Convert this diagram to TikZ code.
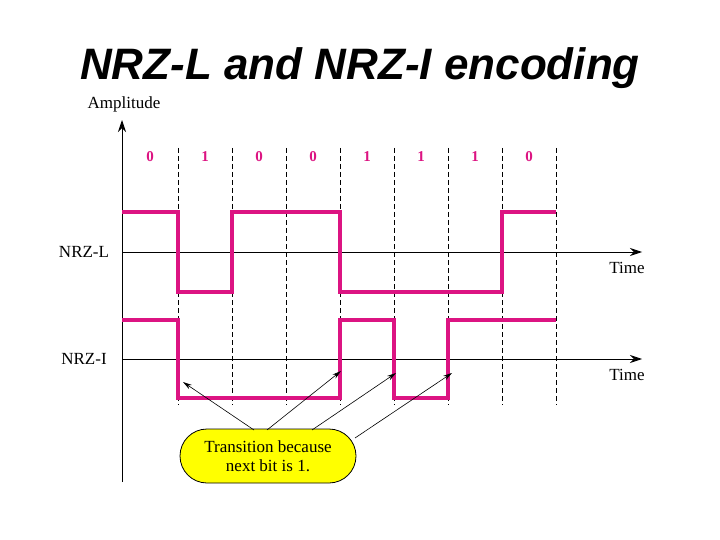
\documentclass[tikz,border=0pt]{standalone}
\usepackage{fontspec}
\newfontfamily\titlefont{Liberation Sans}
\setmainfont{Liberation Serif}
\usetikzlibrary{arrows.meta,shapes.misc}
\definecolor{sig}{RGB}{220,20,130}
\definecolor{bub}{RGB}{255,255,0}
\begin{document}
\begin{tikzpicture}[x=1pt,y=-1pt,
  sigline/.style={sig,line width=3.5pt,line join=miter},
  axis/.style={line width=0.9pt,-{Stealth[length=12pt,width=8pt]}},
  bitsep/.style={line width=0.7pt,dash pattern=on 5pt off 3pt},
  bit/.style={sig,font=\bfseries\fontsize{15}{15}\selectfont},
  lab/.style={font=\fontsize{17}{17}\selectfont},
  pointer/.style={line width=0.6pt,-{Stealth[length=9pt,width=5pt]}}]
\useasboundingbox (0,0) rectangle (720,540);
\node (title) at (360,68) {\titlefont\bfseries\itshape\fontsize{44}{44}\selectfont NRZ-L and NRZ-I encoding};
\coordinate (ybot) at (122,482);
\coordinate (ytop) at (122,120);
\draw[axis] (ybot) -- (ytop);
\node[lab,anchor=center] (amp) at (124,104) {Amplitude};
\foreach \x in {178,232,286,340,394,448,502,556}
  \draw[bitsep] (\x,148) -- (\x,405);
\foreach \x/\b [count=\i] in {150/0,205/1,259/0,313/0,367/1,421/1,475/1,529/0}
  \node[bit] (b\i) at (\x,157) {\b};
\coordinate (l0) at (122,252); \coordinate (l1) at (642,252);
\draw[axis] (l0) -- (l1);
\coordinate (i0) at (122,359); \coordinate (i1) at (642,359);
\draw[axis] (i0) -- (i1);
\node[lab] (nrzl) at (84,252) {NRZ-L};
\node[lab] (nrzi) at (84,359) {NRZ-I};
\node[lab] (t1) at (627,268) {Time};
\node[lab] (t2) at (627,375) {Time};
\draw[sigline] (122,212) -- (178,212) -- (178,292) -- (232,292) -- (232,212) -- (340,212) -- (340,292) -- (502,292) -- (502,212) -- (556,212);
\draw[sigline] (122,320) -- (178,320) -- (178,398) -- (340,398) -- (340,320) -- (394,320) -- (394,398) -- (448,398) -- (448,320) -- (556,320);
\node[draw,fill=bub,rounded rectangle,line width=0.8pt,minimum width=180pt,minimum height=54pt,align=center,font=\fontsize{17}{19}\selectfont,inner sep=2pt] (note) at (268,456) {Transition because\\next bit is 1.};
\coordinate (p1) at (183,382); \coordinate (p2) at (341,371);
\coordinate (p3) at (396,373); \coordinate (p4) at (452,373);
\draw[pointer] (254,430) -- (p1);
\draw[pointer] (267,430) -- (p2);
\draw[pointer] (312,430) -- (p3);
\draw[pointer] (355,438) -- (p4);
\end{tikzpicture}
\end{document}
